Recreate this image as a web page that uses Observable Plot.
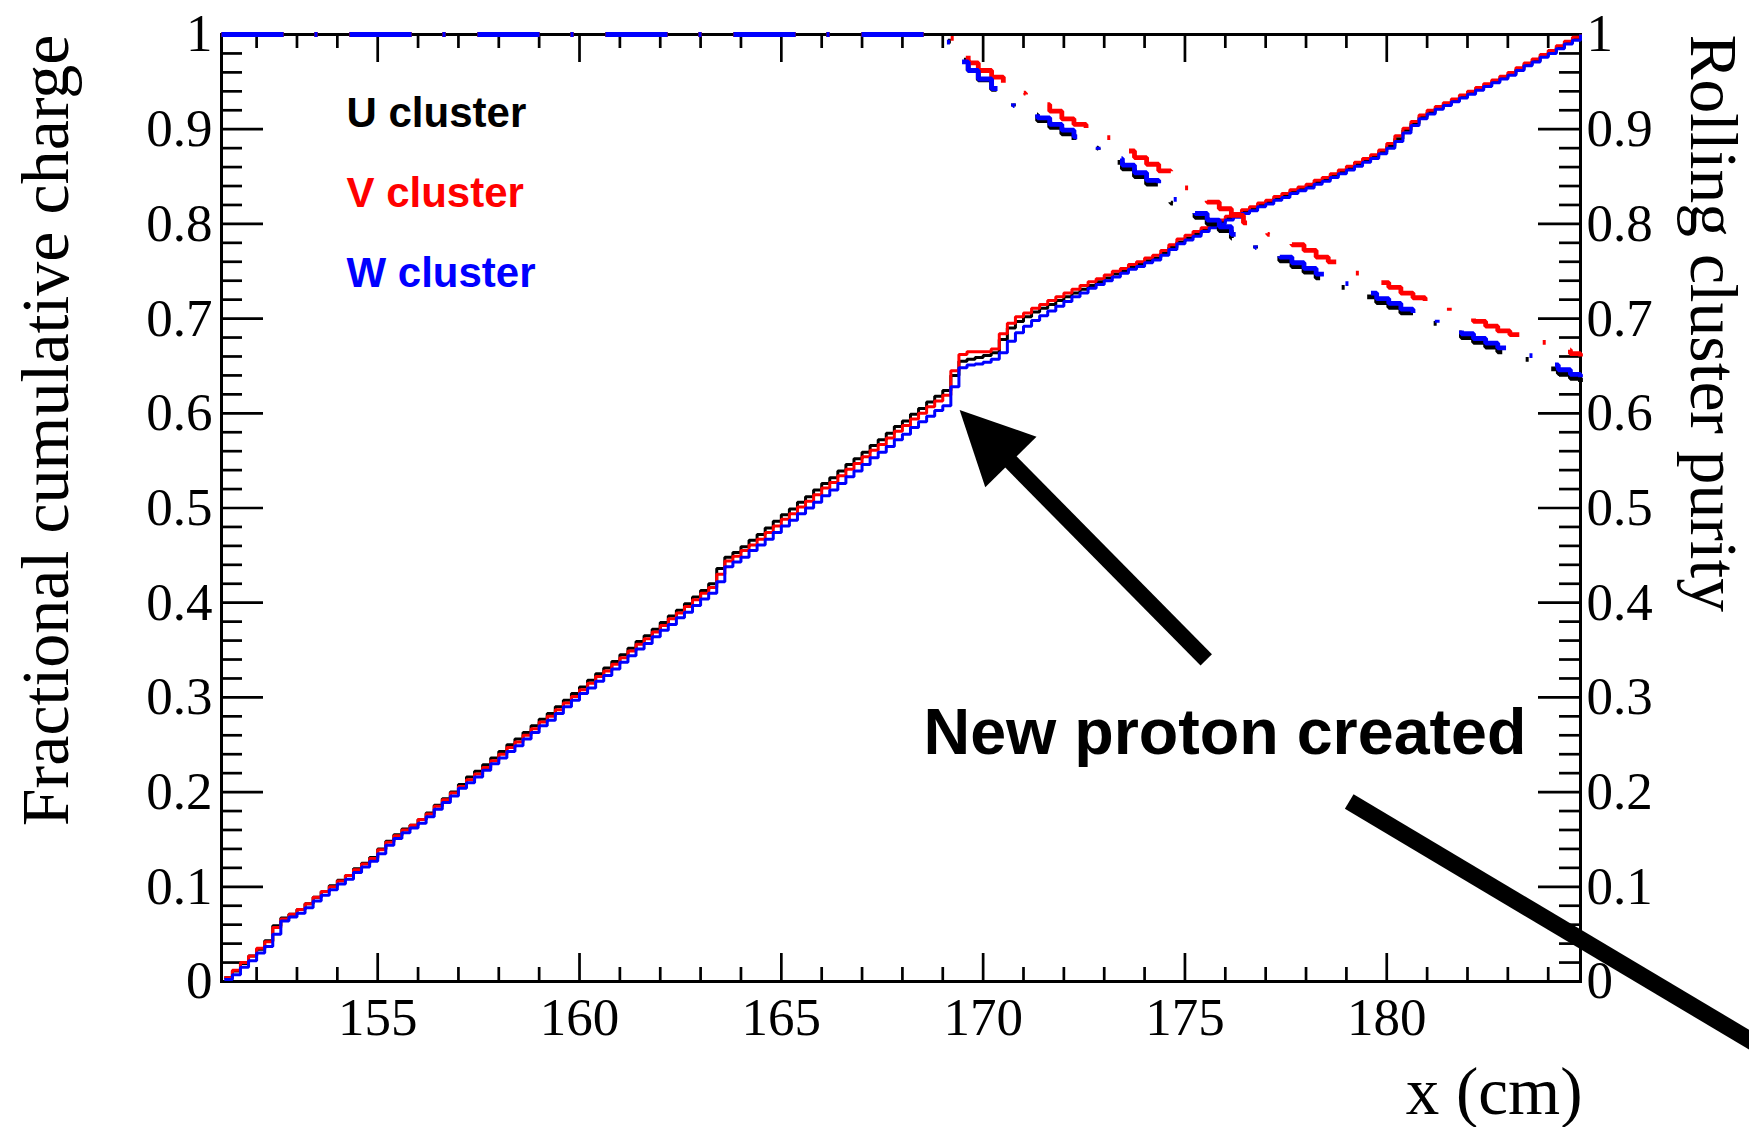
<!DOCTYPE html>
<html>
<head>
<meta charset="utf-8">
<script src="https://cdn.jsdelivr.net/npm/d3@7"></script>
<script src="https://cdn.jsdelivr.net/npm/@observablehq/plot@0.6"></script>
<style>
  html, body { margin: 0; padding: 0; background: #fff; overflow: hidden; }
  #chart { width: 1749px; height: 1127px; overflow: hidden; }
</style>
</head>
<body>
<div id="chart"></div>
<script>
// ---- Histogram binning of the cumulative charge (0.2 cm bins) ----
const binStart = 151.2;
const binWidth = 0.2;
const binEdges = d3.range(169).map(i => Math.round((binStart + binWidth * i) * 10) / 10);

// Fractional cumulative charge per bin, U / V / W views
const chargeU = [
  0.004,0.011,0.019,0.027,0.034,0.043,0.059,0.067,0.071,0.076,0.082,0.089,0.095,0.101,0.107,0.112,0.119,0.125,0.131,0.140,0.148,0.155,0.161,0.165,0.171,0.178,0.186,0.193,0.200,0.208,
  0.216,0.222,0.229,0.236,0.243,0.250,0.256,0.263,0.270,0.277,0.283,0.290,0.297,0.304,0.311,0.318,0.325,0.331,0.338,0.345,0.352,0.359,0.365,0.372,0.379,0.386,0.392,0.399,0.406,0.413,
  0.420,0.436,0.448,0.453,0.459,0.466,0.472,0.479,0.486,0.493,0.499,0.506,0.512,0.519,0.526,0.532,0.539,0.546,0.552,0.559,0.566,0.572,0.579,0.586,0.592,0.599,0.605,0.612,0.618,0.624,
  0.640,0.655,0.657,0.659,0.661,0.664,0.678,0.690,0.697,0.702,0.707,0.711,0.715,0.719,0.723,0.727,0.731,0.735,0.739,0.743,0.747,0.750,0.754,0.757,0.761,0.764,0.769,0.775,0.781,0.785,
  0.789,0.794,0.798,0.802,0.806,0.809,0.813,0.816,0.820,0.823,0.827,0.830,0.834,0.837,0.840,0.844,0.847,0.851,0.855,0.859,0.863,0.867,0.871,0.876,0.882,0.890,0.899,0.906,0.913,0.918,
  0.922,0.926,0.930,0.934,0.938,0.942,0.946,0.950,0.954,0.958,0.963,0.968,0.972,0.977,0.981,0.986,0.991,0.995,1.000
];
const chargeV = [
  0.004,0.012,0.020,0.027,0.035,0.042,0.057,0.066,0.071,0.076,0.082,0.089,0.095,0.100,0.106,0.112,0.118,0.124,0.130,0.139,0.147,0.154,0.160,0.165,0.171,0.177,0.185,0.192,0.199,0.206,
  0.213,0.219,0.226,0.233,0.240,0.247,0.253,0.260,0.267,0.274,0.280,0.287,0.294,0.301,0.308,0.315,0.322,0.328,0.335,0.342,0.349,0.356,0.362,0.369,0.376,0.383,0.389,0.396,0.403,0.410,
  0.416,0.430,0.444,0.449,0.455,0.461,0.467,0.474,0.481,0.488,0.494,0.501,0.507,0.514,0.521,0.527,0.534,0.541,0.547,0.554,0.561,0.567,0.574,0.581,0.587,0.594,0.600,0.607,0.613,0.619,
  0.645,0.662,0.665,0.665,0.665,0.668,0.684,0.695,0.702,0.706,0.711,0.715,0.719,0.723,0.727,0.731,0.735,0.739,0.742,0.746,0.750,0.753,0.757,0.760,0.764,0.767,0.772,0.778,0.784,0.788,
  0.792,0.796,0.800,0.804,0.808,0.811,0.815,0.818,0.822,0.825,0.829,0.832,0.836,0.839,0.842,0.846,0.849,0.853,0.857,0.861,0.865,0.869,0.873,0.878,0.885,0.893,0.901,0.908,0.915,0.920,
  0.924,0.928,0.932,0.936,0.940,0.944,0.948,0.952,0.956,0.960,0.965,0.970,0.974,0.979,0.983,0.988,0.993,0.997,1.000
];
const chargeW = [
  0.002,0.007,0.015,0.022,0.030,0.037,0.050,0.064,0.068,0.072,0.078,0.085,0.091,0.097,0.103,0.108,0.115,0.121,0.127,0.135,0.144,0.151,0.157,0.162,0.167,0.174,0.182,0.189,0.196,0.204,
  0.210,0.216,0.223,0.230,0.236,0.243,0.249,0.256,0.263,0.270,0.276,0.283,0.290,0.297,0.304,0.310,0.317,0.323,0.330,0.337,0.344,0.351,0.357,0.364,0.371,0.377,0.384,0.390,0.397,0.404,
  0.410,0.422,0.438,0.443,0.448,0.455,0.461,0.467,0.474,0.481,0.487,0.494,0.500,0.506,0.513,0.519,0.526,0.533,0.539,0.546,0.553,0.559,0.565,0.572,0.578,0.585,0.591,0.597,0.603,0.608,
  0.628,0.648,0.651,0.652,0.654,0.657,0.664,0.676,0.685,0.692,0.698,0.703,0.708,0.713,0.718,0.723,0.727,0.732,0.736,0.740,0.744,0.748,0.752,0.755,0.759,0.762,0.767,0.773,0.779,0.783,
  0.787,0.792,0.796,0.800,0.804,0.807,0.811,0.814,0.818,0.821,0.825,0.828,0.832,0.835,0.838,0.842,0.845,0.849,0.853,0.857,0.861,0.865,0.869,0.874,0.880,0.887,0.896,0.904,0.911,0.916,
  0.921,0.925,0.929,0.933,0.937,0.941,0.945,0.949,0.953,0.957,0.962,0.967,0.971,0.976,0.980,0.985,0.990,0.994,1.000
];

// ---- Rolling cluster purity (right axis, same 0–1 range) ----
const purityX = [
  151.13,169.0,169.35,169.63,169.88,170.21,170.5,170.75,
  171.05,171.35,171.65,171.95,172.25,172.55,172.85,173.15,173.45,173.75,
  174.05,174.35,174.65,174.95,175.25,175.55,175.85,176.15,176.45,176.75,
  177.05,177.35,177.65,177.95,178.25,178.55,178.85,179.15,179.45,179.75,
  180.05,180.35,180.65,180.95,181.25,181.55,181.85,182.15,182.45,182.75,
  183.05,183.35,183.65,183.95,184.25,184.55,184.8
];
const purityU = [
  1,0.993,0.973,0.962,0.952,0.942,0.932,0.922,
  0.915,0.909,0.902,0.895,0.888,0.880,0.872,0.865,0.858,0.850,
  0.842,0.833,0.822,0.814,0.807,0.800,0.793,0.785,0.778,0.771,
  0.766,0.761,0.755,0.749,0.743,0.738,0.733,0.728,0.723,0.717,
  0.712,0.706,0.700,0.695,0.690,0.685,0.680,0.675,0.670,0.665,
  0.661,0.657,0.652,0.647,0.642,0.637,0.633
];
const purityV = [
  1,0.996,0.978,0.970,0.962,0.955,0.949,0.938,
  0.932,0.926,0.919,0.911,0.905,0.899,0.891,0.884,0.877,0.870,
  0.863,0.856,0.848,0.838,0.831,0.823,0.816,0.809,0.801,0.795,
  0.789,0.783,0.778,0.772,0.765,0.760,0.754,0.748,0.743,0.738,
  0.733,0.727,0.722,0.717,0.712,0.707,0.702,0.697,0.692,0.687,
  0.683,0.679,0.675,0.671,0.667,0.663,0.660
];
const purityW = [
  1,0.992,0.971,0.962,0.953,0.943,0.934,0.925,
  0.918,0.912,0.905,0.899,0.892,0.884,0.876,0.869,0.862,0.854,
  0.846,0.837,0.826,0.818,0.811,0.804,0.797,0.789,0.782,0.775,
  0.770,0.765,0.759,0.753,0.747,0.742,0.737,0.732,0.727,0.721,
  0.716,0.710,0.704,0.699,0.694,0.689,0.684,0.679,0.674,0.669,
  0.665,0.661,0.656,0.651,0.646,0.641,0.638
];

// ---- Series names, colours, axis ticks ----
const clusterLabels = ["U cluster", "V cluster", "W cluster"];
const clusterColors = ["#000000", "#ff0000", "#0000ff"];
const yTicks = [0, 0.1, 0.2, 0.3, 0.4, 0.5, 0.6, 0.7, 0.8, 0.9, 1];
const xTicks = [155, 160, 165, 170, 175, 180];
const xDomain = [151.13, 184.8];

// ---- Annotations (data units: cm, fraction) ----
const annotationText = "New proton created";
const arrowTail = [175.54, 0.339];
const arrowTip = [169.43, 0.603];
const pointerFrom = [179.07, 0.190];
const pointerTo = [190.3, -0.095];

// ---- Layout ----
const W = 1749, H = 1127;
const M = {top: 34, right: 169, bottom: 146, left: 221};
const innerW = W - M.left - M.right;
const innerH = H - M.top - M.bottom;

const yMinor = d3.range(51).map(i => i / 50).filter(v => Math.round(v * 50) % 5 !== 0);
const xMinor = d3.range(152, 185).filter(v => v % 5 !== 0);

const charges = [chargeU, chargeV, chargeW];
const purities = [purityU, purityV, purityW];

const serif = "'Liberation Serif', 'Times New Roman', serif";
const sans = "'Liberation Sans', Arial, Helvetica, sans-serif";
const tickStroke = {stroke: "black", strokeWidth: 2.7};

// Filled arrow drawn through the plot's own scales
function protonArrow(index, {x, y}) {
  const tail = [x(arrowTail[0]), y(arrowTail[1])];
  const tip = [x(arrowTip[0]), y(arrowTip[1])];
  const len = Math.hypot(tail[0] - tip[0], tail[1] - tip[1]);
  const ux = (tail[0] - tip[0]) / len, uy = (tail[1] - tip[1]) / len;
  const headLength = 73, headHalf = 36;
  const base = [tip[0] + ux * headLength, tip[1] + uy * headLength];
  const g = d3.create("svg:g");
  g.append("line")
    .attr("x1", tail[0]).attr("y1", tail[1])
    .attr("x2", base[0] - ux * 2).attr("y2", base[1] - uy * 2)
    .attr("stroke", "black").attr("stroke-width", 16).attr("stroke-linecap", "butt");
  g.append("polygon")
    .attr("points", [
      tip,
      [base[0] - uy * headHalf, base[1] + ux * headHalf],
      [base[0] + uy * headHalf, base[1] - ux * headHalf]
    ].map(p => p.join(",")).join(" "))
    .attr("fill", "black");
  return g.node();
}

const chart = Plot.plot({
  width: W,
  height: H,
  marginTop: M.top,
  marginRight: M.right,
  marginBottom: M.bottom,
  marginLeft: M.left,
  x: {domain: xDomain},
  y: {domain: [0, 1]},
  style: {fontFamily: serif, background: "white", color: "black"},
  marks: [
    Plot.frame({stroke: "black", strokeWidth: 3}),

    // inward ticks on all four sides
    Plot.tickY(yMinor, {insetRight: innerW - 21, ...tickStroke}),
    Plot.tickY(yTicks, {insetRight: innerW - 42, ...tickStroke}),
    Plot.tickY(yMinor, {insetLeft: innerW - 21, ...tickStroke}),
    Plot.tickY(yTicks, {insetLeft: innerW - 42, ...tickStroke}),
    Plot.tickX(xMinor, {insetTop: innerH - 14, ...tickStroke}),
    Plot.tickX(xTicks, {insetTop: innerH - 28, ...tickStroke}),
    Plot.tickX(xMinor, {insetBottom: innerH - 14, ...tickStroke}),
    Plot.tickX(xTicks, {insetBottom: innerH - 28, ...tickStroke}),

    // cumulative charge histograms
    ...charges.map((values, k) => Plot.line(binEdges, {
      x: d => d,
      y: (d, i) => values[i],
      curve: "step-after",
      stroke: clusterColors[k],
      strokeWidth: 3,
      strokeLinejoin: "miter",
      strokeLinecap: "butt"
    })),

    // rolling purity, dash-dot
    ...purities.map((values, k) => Plot.line(purityX, {
      x: d => d,
      y: (d, i) => values[i],
      curve: "step-after",
      stroke: clusterColors[k],
      strokeWidth: 4.8,
      strokeDasharray: "62,31,3,32",
      strokeLinejoin: "miter",
      strokeLinecap: "butt"
    })),

    // tick labels
    Plot.axisY(yTicks, {anchor: "left", tickSize: 0, tickPadding: 9, tickFormat: d => String(d), fontSize: 53, label: null}),
    Plot.axisY(yTicks, {anchor: "right", tickSize: 0, tickPadding: 6, tickFormat: d => String(d), fontSize: 53, label: null}),
    Plot.axisX(xTicks, {anchor: "bottom", tickSize: 0, tickPadding: 16, tickFormat: d => String(d), fontSize: 53, label: null}),

    // axis titles
    Plot.text(["Fractional cumulative charge"], {
      frameAnchor: "top-left", rotate: -90, textAnchor: "end", lineAnchor: "bottom",
      dx: -154, dy: 0, fontSize: 68, fontFamily: serif, fill: "black"
    }),
    Plot.text(["Rolling cluster purity"], {
      frameAnchor: "top-right", rotate: 90, textAnchor: "start", lineAnchor: "bottom",
      dx: 110, dy: 0, fontSize: 67.5, fontFamily: serif, fill: "black"
    }),
    Plot.text(["x (cm)"], {
      frameAnchor: "bottom-right", textAnchor: "end", lineAnchor: "bottom",
      dx: 2, dy: 132, fontSize: 67, fontFamily: serif, fill: "black"
    }),

    // legend
    ...clusterLabels.map((label, k) => Plot.text([label], {
      frameAnchor: "top-left", textAnchor: "start", lineAnchor: "bottom",
      dx: 125, dy: 92 + 80 * k, fontSize: 42, fontWeight: "bold", fontFamily: sans, fill: clusterColors[k]
    })),

    // annotation
    Plot.text([annotationText], {
      frameAnchor: "top-left", textAnchor: "start", lineAnchor: "bottom",
      dx: 702, dy: 719, fontSize: 64.6, fontWeight: "bold", fontFamily: sans, fill: "black"
    }),
    protonArrow,
    Plot.link([0], {
      x1: () => pointerFrom[0], y1: () => pointerFrom[1],
      x2: () => pointerTo[0], y2: () => pointerTo[1],
      stroke: "black", strokeWidth: 17, strokeLinecap: "butt"
    })
  ]
});

document.getElementById("chart").appendChild(chart);
</script>
</body>
</html>
